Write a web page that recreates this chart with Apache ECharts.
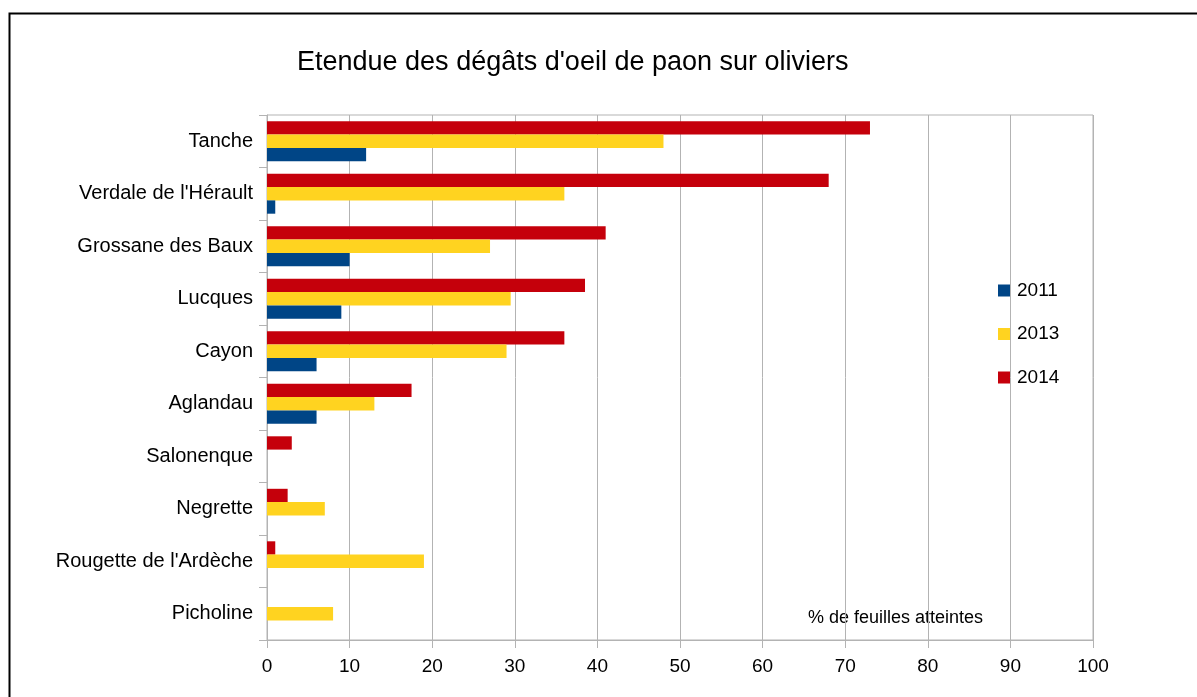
<!DOCTYPE html>
<html>
<head>
<meta charset="utf-8">
<script src="https://cdn.jsdelivr.net/npm/echarts@6/dist/echarts.min.js"></script>
<style>
html,body{margin:0;padding:0;background:#fff;}
#chart{width:1197px;height:697px;}
</style>
</head>
<body>
<div id="chart"></div>
<script>
// Categories listed top to bottom
const categories = ["Tanche", "Verdale de l'Hérault", "Grossane des Baux", "Lucques", "Cayon", "Aglandau", "Salonenque", "Negrette", "Rougette de l'Ardèche", "Picholine"];
const values2011 = [12, 1, 10, 9, 6, 6, null, null, null, null];
const values2013 = [48, 36, 27, 29.5, 29, 13, null, 7, 19, 8];
const values2014 = [73, 68, 41, 38.5, 36, 17.5, 3, 2.5, 1, null];
const xTicks = [0, 10, 20, 30, 40, 50, 60, 70, 80, 90, 100];
const titleText = "Etendue des dégâts d'oeil de paon sur oliviers";
const axisNote = "% de feuilles atteintes";

const FONT = "'Liberation Sans', Arial, sans-serif";
const gridColor = '#b3b3b3';

const chart = echarts.init(document.getElementById('chart'), null, {renderer: 'canvas'});
chart.setOption({
  animation: false,
  backgroundColor: '#ffffff',
  textStyle: {fontFamily: FONT, color: '#000'},
  title: {
    text: titleText,
    left: 297, top: 49, padding: 0,
    textStyle: {fontFamily: FONT, fontSize: 27, fontWeight: 'normal', color: '#000'}
  },
  legend: {
    orient: 'vertical',
    left: 998, top: 281, padding: 0,
    itemWidth: 12, itemHeight: 12, itemGap: 24.5,
    icon: 'rect',
    data: ['2011', '2013', '2014'],
    textStyle: {fontFamily: FONT, fontSize: 19, color: '#000', padding: [0, 0, 0, 2]}
  },
  grid: {
    left: 267, right: 104, top: 115, bottom: 57,
    show: true, borderColor: gridColor, borderWidth: 1,
    containLabel: false
  },
  xAxis: {
    type: 'value',
    min: xTicks[0], max: xTicks[xTicks.length - 1], interval: xTicks[1] - xTicks[0],
    axisLine: {show: true, lineStyle: {color: gridColor}},
    axisTick: {show: true, length: 8, lineStyle: {color: gridColor}},
    splitLine: {show: true, lineStyle: {color: gridColor, width: 1}},
    axisLabel: {fontFamily: FONT, fontSize: 19, color: '#000', margin: 17}
  },
  yAxis: {
    type: 'category',
    inverse: true,
    data: categories,
    axisLine: {show: true, lineStyle: {color: gridColor}},
    axisTick: {show: true, length: 8, alignWithLabel: false, lineStyle: {color: gridColor}},
    splitLine: {show: false},
    axisLabel: {fontFamily: FONT, fontSize: 20, color: '#000', margin: 14}
  },
  graphic: [
    {type: 'rect', shape: {x: 9.5, y: 13.5, width: 1200, height: 700},
     style: {fill: 'none', stroke: '#000', lineWidth: 2}, silent: true, z: 100},
    {type: 'text', left: 808, top: 609,
     style: {text: axisNote, font: '18px ' + FONT, fill: '#000'}}
  ],
  series: [
    {name: '2014', type: 'bar', data: values2014, itemStyle: {color: '#c5000b'},
     barCategoryGap: '24%', barGap: '0%'},
    {name: '2013', type: 'bar', data: values2013, itemStyle: {color: '#ffd320'},
     barCategoryGap: '24%', barGap: '0%'},
    {name: '2011', type: 'bar', data: values2011, itemStyle: {color: '#004586'},
     barCategoryGap: '24%', barGap: '0%'}
  ]
});
</script>
</body>
</html>
